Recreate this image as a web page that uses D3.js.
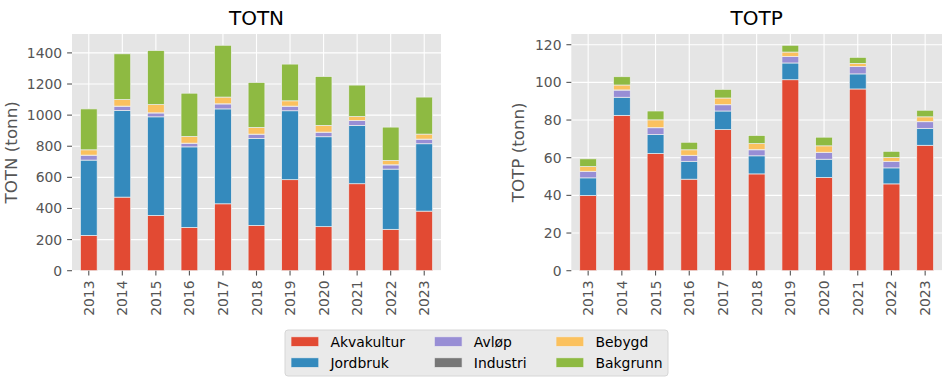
<!DOCTYPE html>
<html><head><meta charset="utf-8">
<script src="https://cdn.jsdelivr.net/npm/d3@7"></script>
<style>body{margin:0;background:#fff}svg{display:block;font-family:"DejaVu Sans",sans-serif}</style>
</head><body><svg id="c" width="944" height="383"></svg>
<script>
const years = ["2013","2014","2015","2016","2017","2018","2019","2020","2021","2022","2023"];
const seriesNames = ["Akvakultur","Jordbruk","Avløp","Industri","Bebygd","Bakgrunn"];
const colors = ["#E24A33","#348ABD","#988ED5","#777777","#FBC15E","#8EBA42"];
// TOTN (tonn)
const totnAkvakultur = [227,473,355,278,430,291,585,283,559,266,383];
const totnJordbruk   = [484,557,634,518,610,559,443,578,375,387,433];
const totnAvlop      = [31,27,25,23,32,27,29,29,31,27,29];
const totnIndustri   = [1,1,1,1,1,1,1,1,1,1,1];
const totnBebygd     = [34,42,53,43,43,43,34,43,25,28,32];
const totnBakgrunn   = [263,294,347,278,333,289,236,314,202,214,238];
// TOTP (tonn)
const totpAkvakultur = [39.9,82.5,62.2,48.6,74.9,51.4,101.4,49.5,96.5,46.1,66.6];
const totpJordbruk   = [9.4,9.6,10.1,9.5,9.9,9.6,8.9,9.7,8.0,8.5,9.0];
const totpAvlop      = [3.4,3.8,3.6,3.1,3.3,3.2,3.4,3.6,3.9,3.4,3.5];
const totpIndustri   = [0.1,0.1,0.1,0.1,0.1,0.1,0.1,0.1,0.1,0.1,0.1];
const totpBebygd     = [2.5,2.6,4.1,2.9,3.5,3.2,2.3,3.4,1.6,2.0,2.5];
const totpBakgrunn   = [4.1,4.4,4.7,4.0,4.6,4.3,3.6,4.6,3.2,3.3,3.5];
const totnTicks = [0,200,400,600,800,1000,1200,1400];
const totpTicks = [0,20,40,60,80,100,120];

const svg = d3.select("#c");
function panel(opts){
  const {x0,x1,y0,y1,title,ylabel,ylabelX,series,ticks} = opts;
  const rows = years.map((y,i)=>{const r={year:y}; seriesNames.forEach((s,j)=>r[s]=series[j][i]); return r;});
  const stacked = d3.stack().keys(seriesNames)(rows);
  const maxV = d3.max(rows, r=>d3.sum(seriesNames, s=>r[s]));
  const y = d3.scaleLinear().domain([0,maxV*1.05]).range([y1,y0]);
  const x = d3.scaleLinear().domain([-0.5,years.length-0.5]).range([x0,x1]);
  const g = svg.append("g");
  g.append("rect").attr("x",x0).attr("y",y0).attr("width",x1-x0).attr("height",y1-y0).attr("fill","#E5E5E5");
  // grid
  g.selectAll(".gy").data(ticks).enter().append("line").attr("x1",x0).attr("x2",x1)
    .attr("y1",d=>y(d)).attr("y2",d=>y(d)).attr("stroke","#fff").attr("stroke-width",1.1);
  g.selectAll(".gx").data(years).enter().append("line").attr("y1",y0).attr("y2",y1)
    .attr("x1",(d,i)=>x(i)).attr("x2",(d,i)=>x(i)).attr("stroke","#fff").attr("stroke-width",1.1);
  // bars
  const bw = x(0.25)-x(-0.25);
  stacked.forEach((layer,j)=>{
    g.selectAll(null).data(layer).enter().append("rect")
      .attr("x",(d,i)=>x(i)-bw/2).attr("width",bw)
      .attr("y",d=>y(d[1])).attr("height",d=>Math.max(0,y(d[0])-y(d[1])))
      .attr("fill",colors[j]).attr("stroke","#EEEEEE").attr("stroke-width",0.7);
  });
  // y axis ticks
  const tl = 4.9;
  ticks.forEach(t=>{
    g.append("line").attr("x1",x0-tl).attr("x2",x0).attr("y1",y(t)).attr("y2",y(t)).attr("stroke","#555").attr("stroke-width",1.1);
    g.append("text").attr("x",x0-tl-4.9).attr("y",y(t)).attr("dy","0.36em").attr("text-anchor","end")
      .attr("font-size",13.9).attr("fill","#555").text(t);
  });
  years.forEach((yr,i)=>{
    g.append("line").attr("x1",x(i)).attr("x2",x(i)).attr("y1",y1).attr("y2",y1+tl).attr("stroke","#555").attr("stroke-width",1.1);
    g.append("text").attr("transform",`translate(${x(i)},${y1+tl+4.9}) rotate(-90)`)
      .attr("text-anchor","end").attr("dy","0.36em").attr("font-size",13.9).attr("fill","#555").text(yr);
  });
  g.append("text").attr("x",(x0+x1)/2).attr("y",25).attr("text-anchor","middle").attr("font-size",20).attr("fill","#000").text(title);
  g.append("text").attr("transform",`translate(${ylabelX},${(y0+y1)/2}) rotate(-90)`).attr("text-anchor","middle")
    .attr("font-size",16.7).attr("fill","#555").text(ylabel);
}
panel({x0:72,x1:441,y0:34,y1:270.7,title:"TOTN",ylabel:"TOTN (tonn)",ylabelX:16.5,
  series:[totnAkvakultur,totnJordbruk,totnAvlop,totnIndustri,totnBebygd,totnBakgrunn],ticks:totnTicks});
panel({x0:571.3,x1:942,y0:34,y1:270.7,title:"TOTP",ylabel:"TOTP (tonn)",ylabelX:524,
  series:[totpAkvakultur,totpJordbruk,totpAvlop,totpIndustri,totpBebygd,totpBakgrunn],ticks:totpTicks});

// legend
const lg = svg.append("g");
lg.append("rect").attr("x",285).attr("y",330).attr("width",383).attr("height",46).attr("rx",3)
  .attr("fill","#EAEAEA").attr("stroke","#D6D6D6").attr("stroke-width",1);
const colX = [291,434.3,556];
const rowY = [341.7,362.7];
seriesNames.forEach((s,j)=>{
  const c = Math.floor(j/2), r = j%2;
  lg.append("rect").attr("x",colX[c]).attr("y",rowY[r]-4.9).attr("width",27.8).attr("height",9.7)
    .attr("fill",colors[j]).attr("stroke","#EEEEEE").attr("stroke-width",0.7);
  lg.append("text").attr("x",colX[c]+39.5).attr("y",rowY[r]).attr("dy","0.36em").attr("font-size",13.9).attr("fill","#000").text(s);
});
</script></body></html>
